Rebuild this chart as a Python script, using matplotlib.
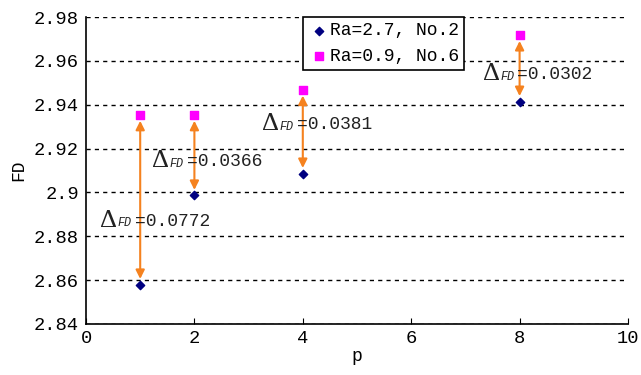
import matplotlib.pyplot as plt
from matplotlib.ticker import FuncFormatter

# FD at each p for the two surface roughness samples
p = [1, 2, 4, 8]
fd_ra27 = [2.8580, 2.8986, 2.9086, 2.9414]
fd_ra09 = [2.9352, 2.9352, 2.9467, 2.9716]
delta_labels = ["0.0772", "0.0366", "0.0381", "0.0302"]
label_xy = [(0.26, 2.8868), (1.22, 2.9140), (3.25, 2.9310), (7.32, 2.9536)]

plt.rcParams["font.family"] = ["Liberation Mono", "DejaVu Sans Mono"]

fig = plt.figure(figsize=(6.41, 3.75), dpi=100)
ax = fig.add_axes([86 / 641, 51 / 375, 542 / 641, 307 / 375])

ax.scatter(p, fd_ra27, marker="D", s=18, color="#000080", zorder=4,
           label="Ra=2.7, No.2")
ax.scatter(p, fd_ra09, marker="s", s=30, color="#ff00ff", zorder=4,
           label="Ra=0.9, No.6")

txt_kw = dict(textcoords="offset points", va="center", ha="left",
              color="#222222", zorder=5)
for x, lo, hi, txt, (tx, ty) in zip(p, fd_ra27, fd_ra09, delta_labels, label_xy):
    ax.annotate("", xy=(x, lo), xytext=(x, hi),
                arrowprops=dict(arrowstyle="<|-|>", color="#f5821f", lw=1.5,
                                mutation_scale=13, shrinkA=4, shrinkB=4),
                zorder=3)
    # delta sign, small FD subscript, then the value
    ax.annotate("\u0394", (tx, ty), xytext=(0, 0.5), fontsize=19,
                family="Liberation Serif", **txt_kw)
    ax.annotate("FD", (tx, ty), xytext=(12.5, -1.5), fontsize=8.5,
                style="italic", **txt_kw)
    ax.annotate("=" + txt, (tx, ty), xytext=(25, 0), fontsize=13, **txt_kw)

ax.set_xlim(0, 10)
ax.set_ylim(2.84, 2.98)
ax.set_xticks([0, 2, 4, 6, 8, 10])
ax.set_yticks([2.84, 2.86, 2.88, 2.90, 2.92, 2.94, 2.96, 2.98])
ax.yaxis.set_major_formatter(FuncFormatter(lambda v, _: f"{v:.2f}".rstrip("0")))
ax.tick_params(direction="in", length=4, labelsize=13.5, pad=4)
ax.tick_params(axis="y", length=0, pad=5)

ax.yaxis.grid(True, linestyle=(0, (3, 3)), color="black", lw=1)
ax.set_axisbelow(True)
for side in ("top", "right"):
    ax.spines[side].set_visible(False)
for side in ("left", "bottom"):
    ax.spines[side].set_linewidth(1.2)

ax.set_xlabel("p", fontsize=13, labelpad=1)
ax.set_ylabel("FD", fontsize=13, labelpad=5)

leg = ax.legend(loc="upper left", bbox_to_anchor=(0.4, 1.0), fontsize=13,
                frameon=True, fancybox=False, handletextpad=0.0,
                handlelength=1.2, borderpad=0.3, labelspacing=0.45,
                borderaxespad=0)
leg.get_frame().set_edgecolor("black")
leg.get_frame().set_linewidth(1.2)
leg.get_frame().set_alpha(1)

fig.savefig("out.png", dpi=100)
